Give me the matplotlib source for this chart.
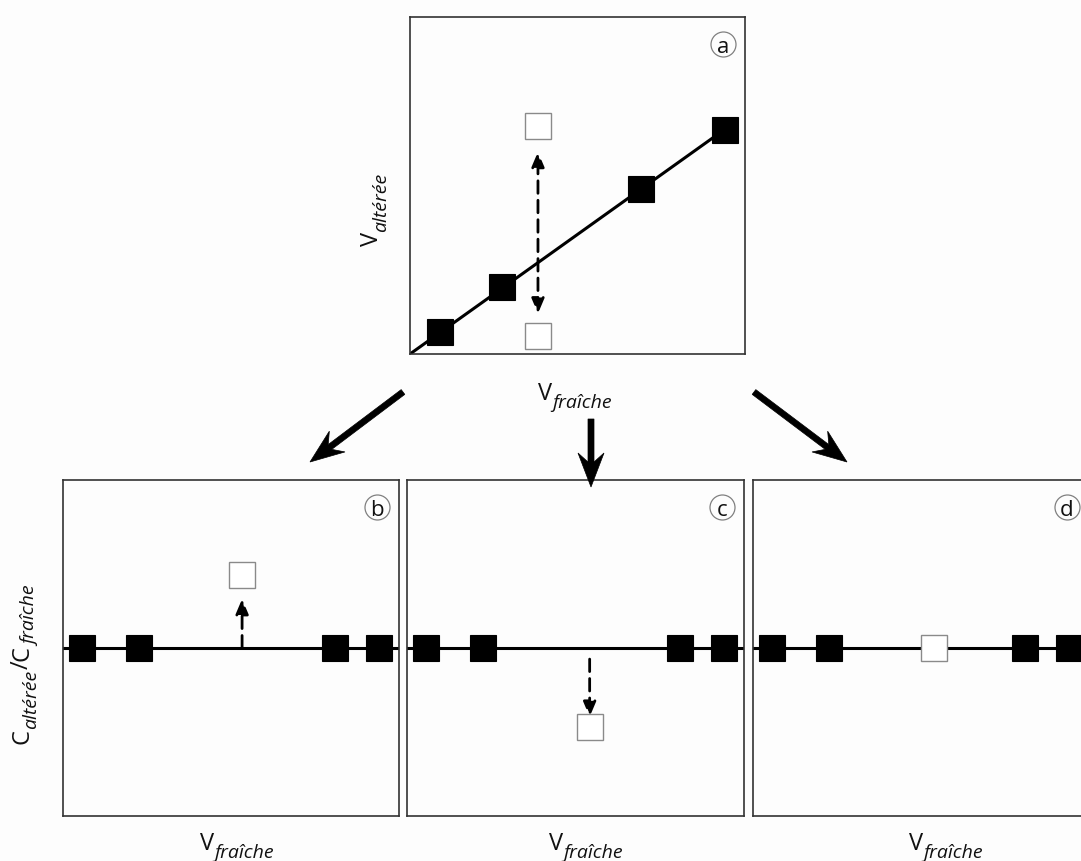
import matplotlib
matplotlib.use("Agg")
import matplotlib.pyplot as plt
import numpy as np
from matplotlib.patches import Polygon

plt.rcParams["font.family"] = ["Open Sans", "DejaVu Sans"]

W, H = 1081, 862
BG = "#fdfdfd"

# panel (a): altered vs fresh values
a_black_x = [0.09, 0.275, 0.69, 0.94]
a_black_y = [0.065, 0.20, 0.49, 0.665]
a_fit_x = [0.0, 0.94]
a_fit_y = [0.0, 0.667]
a_open_x = [0.382, 0.382]
a_open_y = [0.677, 0.053]
a_arrow_x = 0.382
a_arrow_y = [0.12, 0.60]

# panels (b)-(d): concentration ratio vs fresh value
ratio_level = 0.5
ratio_black_x = [0.057, 0.226, 0.81, 0.94]
panel_tags = ["b", "c", "d"]
open_x = [0.533, 0.542, 0.54]
open_y = [0.717, 0.265, 0.5]
shift_from = [0.5, 0.467, None]
shift_to = [0.646, 0.295, None]

# pixel boxes (left, top, right, bottom)
rect_a = (410, 18, 745, 355)
rects_bcd = [(63, 481, 399, 817), (407, 481, 744, 817), (753, 481, 1089, 817)]
xlabel_centers = [237, 586, 946]

MAIN_FS = 17
SUB_FS = 14
DROP = 8

fig = plt.figure(figsize=(W / 100, H / 100), dpi=100, facecolor=BG)


def fpos(x, y):
    # top-down pixel -> figure fraction
    return x / W, 1 - y / H


def frame(rect, tag):
    l, t, r, b = rect
    ax = fig.add_axes([l / W, 1 - b / H, (r - l) / W, (b - t) / H])
    ax.set_xlim(0, 1)
    ax.set_ylim(0, 1)
    ax.set_xticks([])
    ax.set_yticks([])
    ax.set_facecolor(BG)
    for s in ax.spines.values():
        s.set_color("#333333")
        s.set_linewidth(1.2)
    tx, ty = 1 - 22 / (r - l), 1 - 27 / (b - t)
    ax.plot(tx, ty, "o", ms=18, mfc="none", mec="#808080", mew=0.9,
            transform=ax.transAxes, clip_on=False, zorder=5)
    ax.text(tx, ty, tag, ha="center", va="center_baseline", fontsize=16,
            color="#111111", transform=ax.transAxes, zorder=6)
    return ax


def dashed_arrow(ax, x, y0, y1, style):
    ax.annotate("", xy=(x, y1), xytext=(x, y0),
                arrowprops=dict(arrowstyle=style + ",head_length=0.9,head_width=0.38",
                                mutation_scale=10, lw=2, ls=(0, (4.5, 2.5)),
                                color="k", shrinkA=0, shrinkB=0), zorder=2)


def sub_label(x, y, parts, rotation=0):
    # x, y: top-down pixel position of the main baseline centre
    r = fig.canvas.get_renderer()
    texts = []
    for s, is_sub in parts:
        t = fig.text(0, 0, s, fontsize=SUB_FS if is_sub else MAIN_FS,
                     style="italic" if is_sub else "normal", color="#111111",
                     ha="left", va="baseline", rotation_mode="anchor")
        texts.append((t, is_sub, t.get_window_extent(r).width))
    pos = -sum(w for _, _, w in texts) / 2
    for t, is_sub, w in texts:
        drop = DROP if is_sub else 0
        if rotation == 0:
            t.set_position(fpos(x + pos, y + drop))
        else:
            t.set_position(fpos(x + drop, y - pos))
            t.set_rotation(rotation)
        pos += w


def stealth_arrow(tail, tip, shaft=6, head_len=34, head_w=26, notch=9):
    tail, tip = np.array(tail, float), np.array(tip, float)
    d = (tip - tail) / np.hypot(*(tip - tail))
    n = np.array([-d[1], d[0]])
    back = tip - d * head_len
    inner = back + d * notch
    pts = [tail + n * shaft / 2, inner + n * shaft / 2,
           back + n * head_w / 2, tip, back - n * head_w / 2,
           inner - n * shaft / 2, tail - n * shaft / 2]
    fig.add_artist(Polygon([fpos(*p) for p in pts], closed=True,
                           transform=fig.transFigure, fc="k", ec="k",
                           lw=0.5, zorder=10))


# panel a
ax = frame(rect_a, "a")
ax.plot(a_fit_x, a_fit_y, color="k", lw=2.2, zorder=2)
ax.plot(a_black_x, a_black_y, "s", ms=19, mfc="k", mec="k", mew=0.8, zorder=3)
ax.plot(a_open_x, a_open_y, "s", ms=19, mfc="white", mec="#8a8a8a", mew=1, zorder=3)
dashed_arrow(ax, a_arrow_x, a_arrow_y[0], a_arrow_y[1], "<|-|>")

# panels b-d
for i, rect in enumerate(rects_bcd):
    ax = frame(rect, panel_tags[i])
    ax.axhline(ratio_level, color="k", lw=2.2, zorder=2)
    ax.plot(ratio_black_x, [ratio_level] * len(ratio_black_x), "s", ms=19,
            mfc="k", mec="k", mew=0.8, zorder=3)
    ax.plot(open_x[i], open_y[i], "s", ms=19, mfc="white", mec="#8a8a8a",
            mew=1, zorder=3)
    if shift_from[i] is not None:
        dashed_arrow(ax, open_x[i], shift_from[i], shift_to[i], "-|>")

# labels
sub_label(575, 400, [("V", False), ("fraîche", True)])
sub_label(378, 209, [("V", False), ("altérée", True)], rotation=90)
for cx in xlabel_centers:
    sub_label(cx, 850, [("V", False), ("fraîche", True)])
sub_label(28, 665, [("C", False), ("altérée", True), ("/", False),
                    ("C", False), ("fraîche", True)], rotation=90)

# arrows from (a) to (b), (c), (d)
stealth_arrow((403, 393), (310, 463))
stealth_arrow((591, 420), (591, 488))
stealth_arrow((754, 393), (847, 463))

fig.savefig("out.png", dpi=100, facecolor=BG)
